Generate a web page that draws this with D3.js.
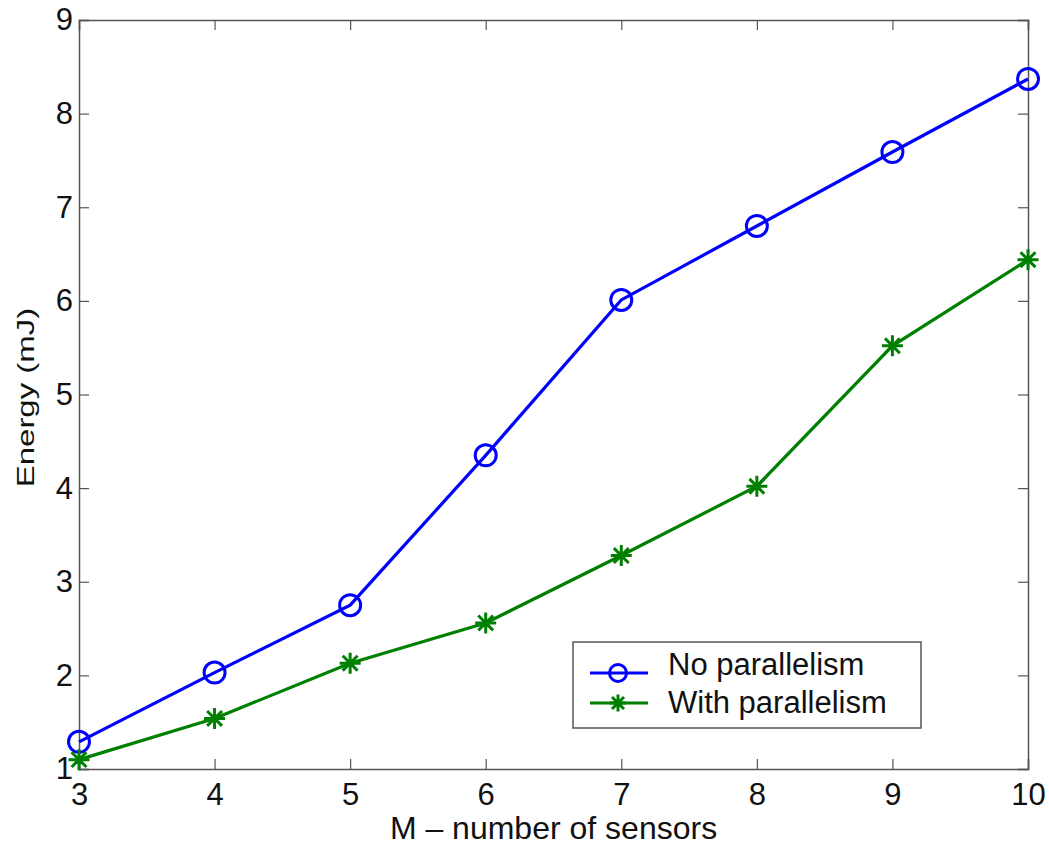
<!DOCTYPE html>
<html lang="en">
<head>
<meta charset="UTF-8">
<title>Energy vs number of sensors</title>
<script src="https://d3js.org/d3.v7.min.js"></script>
<style>
  body { margin: 0; background: #fff; }
  text { font-family: "Liberation Sans", Arial, sans-serif; fill: #111; }
</style>
</head>
<body>
<div id="chart"></div>
<script>
// data
const sensors = [3, 4, 5, 6, 7, 8, 9, 10];
const noParallelism = [1.29, 2.03, 2.75, 4.35, 6.01, 6.80, 7.59, 8.37];
const withParallelism = [1.10, 1.54, 2.13, 2.56, 3.28, 4.02, 5.52, 6.44];
const yTicks = [1, 2, 3, 4, 5, 6, 7, 8, 9];
const seriesNames = ["No parallelism", "With parallelism"];

const width = 1049, height = 848;
const margin = { top: 20, right: 21, bottom: 79, left: 79 };

const svg = d3.select("#chart").append("svg")
    .attr("width", width)
    .attr("height", height);

const x = d3.scaleLinear().domain([3, 10]).range([margin.left, width - margin.right]);
const y = d3.scaleLinear().domain([1, 9]).range([height - margin.bottom, margin.top]);

const tickLen = 10;
const axisColor = "#555";

// axes (MATLAB-style box with inward ticks)
const gx = svg.append("g").attr("transform", `translate(0,${y(1)})`)
    .call(d3.axisBottom(x).tickValues(sensors).tickSize(-tickLen).tickPadding(14).tickFormat(d3.format("d")));
const gy = svg.append("g").attr("transform", `translate(${x(3)},0)`)
    .call(d3.axisLeft(y).tickValues(yTicks).tickSize(-tickLen).tickPadding(6).tickFormat(d3.format("d")));
const gxTop = svg.append("g").attr("transform", `translate(0,${y(9)})`)
    .call(d3.axisTop(x).tickValues(sensors).tickSize(-tickLen).tickFormat(""));
const gyRight = svg.append("g").attr("transform", `translate(${x(10)},0)`)
    .call(d3.axisRight(y).tickValues(yTicks).tickSize(-tickLen).tickFormat(""));

[gx, gy, gxTop, gyRight].forEach(g => {
  g.attr("font-size", null).attr("font-family", null);
  g.select(".domain").attr("stroke", axisColor).attr("stroke-width", 1.5);
  g.selectAll(".tick line").attr("stroke", axisColor).attr("stroke-width", 1.2);
  g.selectAll(".tick text").style("font-size", "31px").attr("fill", "#111");
});
gx.selectAll(".tick text").attr("dy", null).attr("y", 36);

// axis labels
svg.append("text")
    .attr("x", (x(3) + x(10)) / 2)
    .attr("y", 839)
    .attr("text-anchor", "middle")
    .style("font-size", "32px")
    .text("M \u2013 number of sensors");

svg.append("text")
    .attr("transform", `translate(34,${(y(1) + y(9)) / 2 + 3}) rotate(-90) scale(1,0.7)`)
    .attr("text-anchor", "middle")
    .style("font-size", "33px")
    .text("Energy (mJ)");

const line = d3.line().x(d => x(d[0])).y(d => y(d[1]));

function starPath(r) {
  let p = "";
  for (let k = 0; k < 4; k++) {
    const a = k * Math.PI / 4;
    const dx = r * Math.cos(a), dy = r * Math.sin(a);
    p += `M${-dx},${-dy}L${dx},${dy}`;
  }
  return p;
}

const series = [
  { name: seriesNames[0], values: noParallelism, color: "#0000ff", marker: "circle" },
  { name: seriesNames[1], values: withParallelism, color: "#008000", marker: "star" }
];

function drawMarker(g, s, cx, cy, r) {
  if (s.marker === "circle") {
    g.append("circle").attr("cx", cx).attr("cy", cy).attr("r", r)
      .attr("fill", "none").attr("stroke", s.color).attr("stroke-width", 3);
  } else {
    g.append("path").attr("transform", `translate(${cx},${cy})`).attr("d", starPath(r))
      .attr("fill", "none").attr("stroke", s.color).attr("stroke-width", 3);
  }
}

series.forEach(s => {
  const pts = sensors.map((m, i) => [m, s.values[i]]);
  svg.append("path").datum(pts)
      .attr("d", line)
      .attr("fill", "none")
      .attr("stroke", s.color)
      .attr("stroke-width", 3.2);
  const g = svg.append("g");
  pts.forEach(p => drawMarker(g, s, x(p[0]), y(p[1]), 10.5));
});

// legend
const lg = svg.append("g").attr("transform", "translate(573,642)");
lg.append("rect").attr("width", 348).attr("height", 86)
    .attr("fill", "#fff").attr("stroke", axisColor).attr("stroke-width", 1.5);
const rowY = [31, 61], textY = [33, 71];
series.forEach((s, i) => {
  lg.append("line").attr("x1", 17).attr("x2", 75).attr("y1", rowY[i]).attr("y2", rowY[i])
    .attr("stroke", s.color).attr("stroke-width", 3);
  drawMarker(lg, s, 45, rowY[i], 8.5);
  lg.append("text").attr("x", 95).attr("y", textY[i])
    .style("font-size", "31px").text(s.name);
});
</script>
</body>
</html>
